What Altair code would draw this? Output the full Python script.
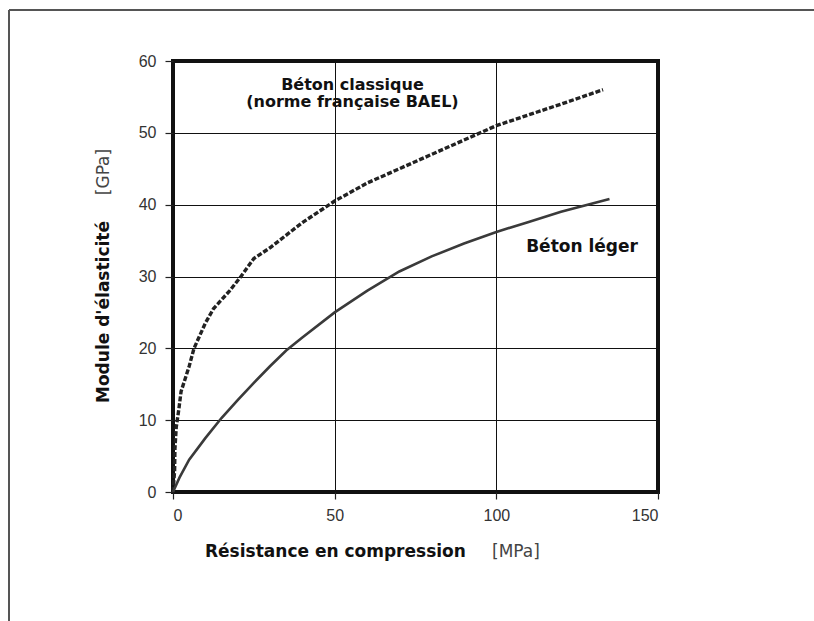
import altair as alt
import pandas as pd

# Béton classique (BAEL): compressive strength [MPa] vs elastic modulus [GPa]
classic_fc = [0, 0.5, 0.6, 1.0, 1.8, 2.5, 5, 6.5, 10, 12.5, 17.5, 21, 25, 30, 40,
              50, 60, 70, 80, 90, 100, 110, 120, 133]
classic_E = [0, 3, 6, 9, 11.5, 14, 17.5, 20, 23.5, 25.5, 28, 30, 32.5, 34, 37.5,
             40.5, 43, 45, 47, 49, 51, 52.5, 54, 56]

# Béton léger
light_fc = [0, 2, 5, 10, 15, 20, 25, 30, 35, 40, 50, 60, 70, 80, 90, 100, 110, 120, 135]
light_E = [0, 2, 4.5, 7.5, 10.3, 12.8, 15.2, 17.5, 19.7, 21.5, 25, 28, 30.7, 32.8,
           34.6, 36.2, 37.6, 39, 40.8]

x_ticks = [0, 50, 100, 150]
y_ticks = [0, 10, 20, 30, 40, 50, 60]

labels = ["Béton classique", "(norme française BAEL)", "Béton léger"]
label_x = [55.5, 55.5, 126.5]
label_y = [56.7, 54.3, 34.1]
label_size = [16, 16, 17]

W, H = 485, 431
PAD_L, PAD_T = 173, 61

classic = pd.DataFrame({"fc": classic_fc, "E": classic_E})
light = pd.DataFrame({"fc": light_fc, "E": light_E})
notes = pd.DataFrame({"txt": labels, "fc": label_x, "E": label_y, "size": label_size})

xs = alt.Scale(domain=[0, 150], nice=False)
ys = alt.Scale(domain=[0, 60], nice=False)

x_axis = alt.Axis(values=x_ticks, title=None, grid=True, gridColor="#111", gridWidth=1,
                  tickColor="#222", tickSize=7, tickWidth=1.2, labelPadding=8,
                  labelFont="Liberation Sans", labelFontSize=16, labelColor="#333",
                  domain=False)
y_axis = alt.Axis(values=y_ticks, title=None, grid=True, gridColor="#111", gridWidth=1,
                  tickColor="#222", tickSize=8, tickWidth=1.2, labelPadding=9,
                  labelFont="Liberation Sans", labelFontSize=16, labelColor="#333",
                  domain=False)

base_classic = alt.Chart(classic).mark_line(
    color="#222", strokeWidth=3.4, strokeDash=[5, 2], strokeCap="butt"
).encode(
    x=alt.X("fc:Q", scale=xs, axis=x_axis),
    y=alt.Y("E:Q", scale=ys, axis=y_axis),
)

line_light = alt.Chart(light).mark_line(color="#3a3a3a", strokeWidth=2.6).encode(
    x=alt.X("fc:Q", scale=xs),
    y=alt.Y("E:Q", scale=ys),
)

note_text = alt.Chart(notes).mark_text(
    font="DejaVu Sans", fontWeight="bold", color="#111"
).encode(
    x=alt.X("fc:Q", scale=xs),
    y=alt.Y("E:Q", scale=ys),
    text="txt:N",
    size=alt.Size("size:Q", scale=None, legend=None),
)

def label(txt, x, y, bold, angle=0, align="left"):
    return alt.Chart(pd.DataFrame({"t": [txt]})).mark_text(
        font="DejaVu Sans", fontSize=17,
        fontWeight="bold" if bold else "normal",
        color="#111" if bold else "#444", angle=angle, align=align, baseline="middle",
    ).encode(x=alt.value(x), y=alt.value(y), text="t:N")

# axis titles (bold quantity, regular unit)
x_title = label("Résistance en compression", 205 - PAD_L, 552 - PAD_T, True)
x_unit = label("[MPa]", 492 - PAD_L, 552 - PAD_T, False)
y_title = label("Module d'élasticité", 104 - PAD_L, 312 - PAD_T, True, angle=270, align="center")
y_unit = label("[GPa]", 104 - PAD_L, 172 - PAD_T, False, angle=270, align="center")

# outer frame (top and left edges)
frame_top = alt.Chart(pd.DataFrame({"a": [0]})).mark_rule(color="#555", strokeWidth=2).encode(
    x=alt.value(9 - PAD_L), x2=alt.value(814 - PAD_L), y=alt.value(10 - PAD_T)
)
frame_left = alt.Chart(pd.DataFrame({"a": [0]})).mark_rule(color="#555", strokeWidth=2).encode(
    x=alt.value(9 - PAD_L), y=alt.value(10 - PAD_T), y2=alt.value(621 - PAD_T)
)

chart = alt.layer(
    base_classic, line_light, note_text, x_title, x_unit, y_title, y_unit, frame_top, frame_left
).properties(
    width=W, height=H,
    autosize=alt.AutoSizeParams(type="none"),
    padding={"left": PAD_L, "top": PAD_T, "right": 814 - PAD_L - W, "bottom": 621 - PAD_T - H},
    background="white",
).configure_view(
    stroke="#111", strokeWidth=4
)

chart.save("out.html", embed_options={"renderer": "svg", "actions": False})
